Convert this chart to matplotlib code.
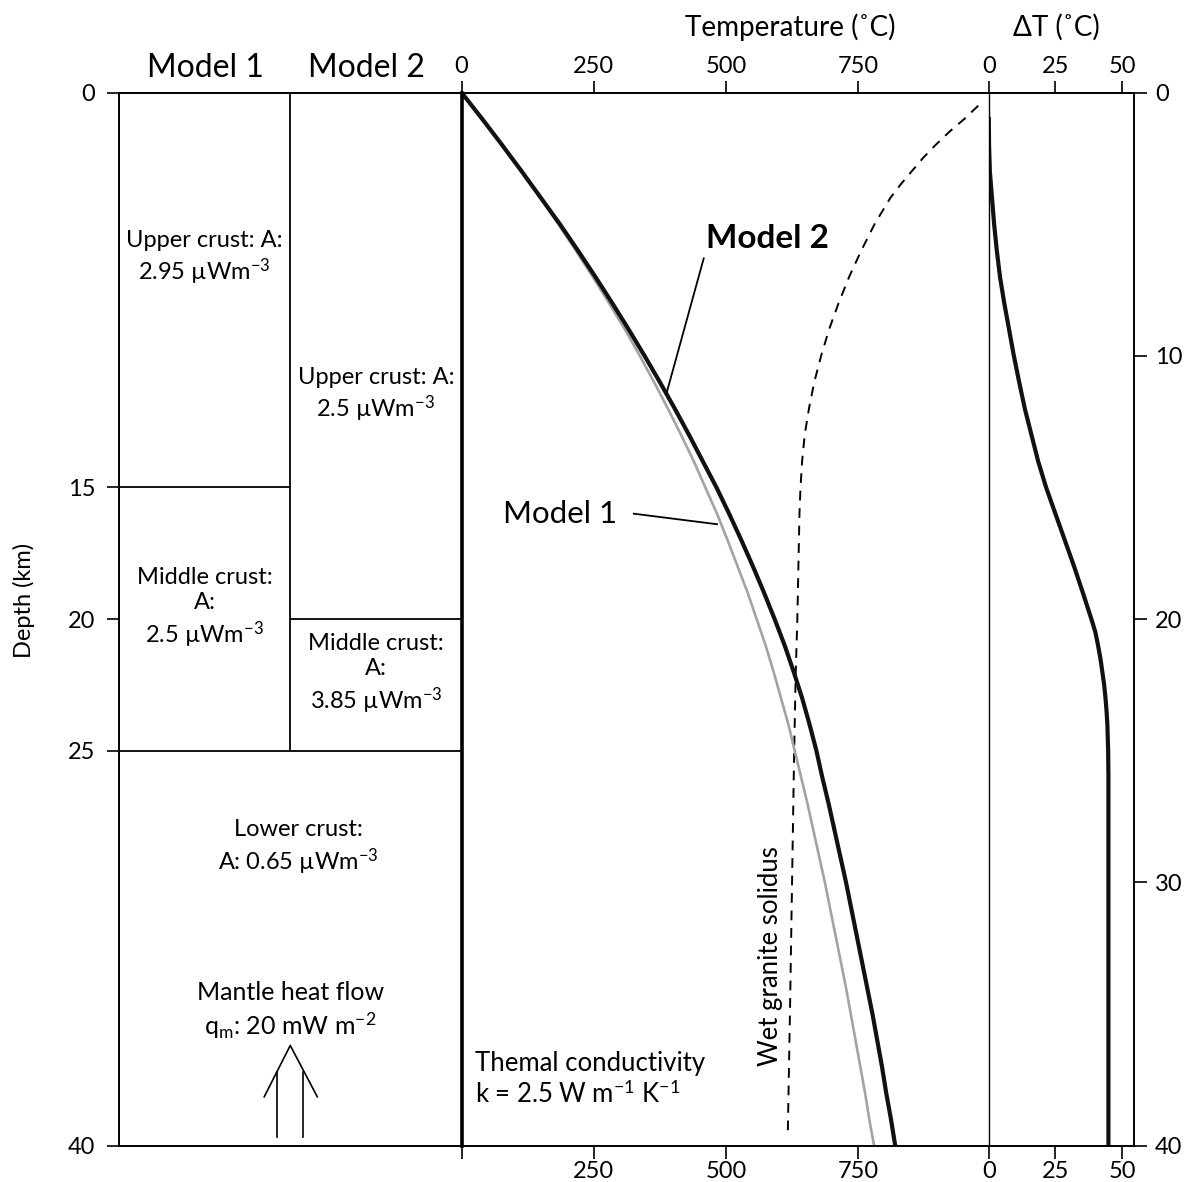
import matplotlib
matplotlib.use('Agg')
import matplotlib.pyplot as plt

plt.rcParams['font.family'] = ['Lato', 'DejaVu Sans']
plt.rcParams['mathtext.fontset'] = 'custom'
plt.rcParams['mathtext.rm'] = 'Lato'
plt.rcParams['mathtext.it'] = 'Lato:italic'
plt.rcParams['mathtext.bf'] = 'Lato:bold'

W, H = 1191, 1182

# geotherms: depth (km) vs temperature (deg C)
depth = [0, 1, 2, 3, 4, 5, 6, 7, 8, 9, 10, 11, 12, 13, 14, 15, 16, 17, 18, 19, 20,
         21, 22, 23, 24, 25, 26, 27, 28, 29, 30, 31, 32, 33, 34, 35, 36, 37, 38, 39, 40]
temp_model1 = [0, 39, 77, 113, 149, 183, 216, 248, 279, 309, 337, 364, 390, 415, 439, 461, 483, 503, 522, 541, 558,
               575, 590, 604, 618, 630, 642, 654, 665, 676, 687, 697, 707, 717, 727, 736, 745, 754, 763, 771, 780]
temp_model2 = [0, 39, 77, 114, 150, 186, 220, 253, 285, 316, 346, 375, 403, 430, 456, 482, 506, 529, 551, 572, 592,
               611, 628, 644, 658, 671, 682, 694, 705, 716, 727, 737, 747, 757, 767, 777, 786, 795, 803, 812, 820]

# temperature difference model 2 - model 1
depth_dT = [1, 2, 3, 4, 5, 6, 7, 8, 9, 10, 11, 12, 13, 14, 15, 16, 17, 18, 19, 20, 20.5,
            21, 21.5, 22, 22.5, 23, 23.5, 24, 25, 26, 40]
dT = [0, 0.1, 0.4, 1.2, 2.0, 3.0, 4.2, 5.8, 7.6, 9.4, 11.4, 13.5, 16, 18.5, 21.5, 25, 28.5, 32, 35.3, 38.5, 40,
      41, 41.9, 42.6, 43.3, 43.8, 44.2, 44.5, 44.8, 44.9, 44.9]

# wet granite solidus
depth_solidus = [0.5, 1, 1.5, 2, 2.5, 3, 3.5, 4, 5, 6, 7, 8, 9, 10, 11, 12, 13, 14, 15, 16, 18, 20, 22, 25, 30, 35, 39.5]
temp_solidus = [977, 951, 922, 896, 872, 851, 830, 811, 781, 756, 733, 713, 695, 680, 667, 657, 649, 644, 641, 639,
                637, 635, 632, 629, 625, 621, 617]

# layer boundaries (km)
bounds_model1 = [15, 25]
bounds_model2 = [20, 25]

depth_ticks_left = [0, 15, 20, 25, 40]
depth_ticks_right = [0, 10, 20, 30, 40]
temp_ticks = [0, 250, 500, 750]
dT_ticks = [0, 25, 50]

fig = plt.figure(figsize=(W / 100, H / 100), dpi=100)

Y0, Y1 = 92.5, 1145.5


def px_axes(x0, x1):
    return fig.add_axes([x0 / W, 1 - Y1 / H, (x1 - x0) / W, (Y1 - Y0) / H])


tick_kw = dict(direction='out', length=9, width=1.2, labelsize=17, colors='black')

# ---- layer columns
ax_l = px_axes(119, 461.5)
ax_l.set_xlim(0, 2)
ax_l.set_ylim(40, 0)
ax_l.spines['right'].set_visible(False)
for s in ['left', 'top', 'bottom']:
    ax_l.spines[s].set_linewidth(1.4)
ax_l.set_xticks([])
ax_l.set_yticks(depth_ticks_left)
ax_l.tick_params(axis='y', pad=8, **tick_kw)
ax_l.vlines(1, 0, 25, color='black', lw=1.3)
ax_l.hlines(bounds_model1, 0, 1, color='black', lw=1.3)
ax_l.hlines(bounds_model2, 1, 2, color='black', lw=1.3)

txt = dict(ha='center', va='center', fontsize=17, linespacing=1.25)
ax_l.text(0.5, 6.3, 'Upper crust: A:\n2.95 µWm$^{-3}$', **txt)
ax_l.text(1.5, 11.5, 'Upper crust: A:\n2.5 µWm$^{-3}$', **txt)
ax_l.text(0.5, 19.6, 'Middle crust:\nA:\n2.5 µWm$^{-3}$', **txt)
ax_l.text(1.5, 22.1, 'Middle crust:\nA:\n3.85 µWm$^{-3}$', **txt)
ax_l.text(1.047, 28.7, 'Lower crust:\nA: 0.65 µWm$^{-3}$', **txt)
ax_l.text(1.0, 34.9, 'Mantle heat flow\nq$_\\mathrm{m}$: 20 mW m$^{-2}$', ha='center', va='center',
          fontsize=18, linespacing=1.25)

# mantle heat flow arrow
ax_l.plot([0.924, 0.924], [39.67, 37.2], color='black', lw=1.2)
ax_l.plot([1.076, 1.076], [39.67, 37.2], color='black', lw=1.2)
ax_l.plot([0.848, 1.0, 1.158], [38.15, 36.2, 38.15], color='black', lw=1.2)

fig.text(205 / W, 1 - 68 / H, 'Model 1', ha='center', va='center', fontsize=23)
fig.text(366 / W, 1 - 68 / H, 'Model 2', ha='center', va='center', fontsize=23)
fig.text(24 / W, 1 - 600 / H, 'Depth (km)', ha='center', va='center', rotation=90, fontsize=17)

# ---- temperature panel
ax_T = px_axes(461.5, 988.8)
ax_T.set_xlim(0, 997)
ax_T.set_ylim(40, 0)
ax_T.spines['right'].set_visible(False)
ax_T.spines['left'].set_linewidth(2.6)
ax_T.spines['top'].set_linewidth(1.4)
ax_T.spines['bottom'].set_linewidth(1.4)
ax_T.set_yticks([])
ax_T.set_xticks(temp_ticks)
ax_T.tick_params(axis='x', top=True, labeltop=True, bottom=True, labelbottom=True, pad=2, **tick_kw)
ax_T.tick_params(axis='x', which='major', labeltop=True)
ax_T.xaxis.get_major_ticks()[0].label1.set_visible(False)

ax_T.plot(temp_solidus, depth_solidus, color='black', lw=1.4, ls=(0, (5, 4)))
ax_T.plot(temp_model1, depth, color='#a3a3a3', lw=1.9)
ax_T.plot(temp_model2, depth, color='#111111', lw=3.0)

ax_T.text(462, 5.55, 'Model 2', ha='left', va='center', fontsize=24, fontweight='bold')
ax_T.plot([458, 388], [6.3, 11.4], color='black', lw=1.3)
ax_T.text(79, 16.0, 'Model 1', ha='left', va='center', fontsize=22.5)
ax_T.plot([326, 483], [16.0, 16.4], color='black', lw=1.3)
ax_T.text(585, 32.8, 'Wet granite solidus', ha='center', va='center', rotation=90, fontsize=18.5)
ax_T.text(26, 37.5, 'Themal conductivity\nk = 2.5 W m$^{-1}$ K$^{-1}$', ha='left', va='center',
          fontsize=18.5, linespacing=1.2)

fig.text(790 / W, 1 - 27 / H, 'Temperature (˚C)', ha='center', va='center', fontsize=20)

# ---- delta T panel
ax_d = px_axes(988.8, 1134)
ax_d.set_xlim(0, 54.5)
ax_d.set_ylim(40, 0)
ax_d.spines['left'].set_linewidth(1.0)
for s in ['right', 'top', 'bottom']:
    ax_d.spines[s].set_linewidth(1.4)
ax_d.set_xticks(dT_ticks)
ax_d.tick_params(axis='x', top=True, labeltop=True, bottom=True, labelbottom=True, pad=2, **tick_kw)
ax_d.yaxis.tick_right()
ax_d.set_yticks(depth_ticks_right)
ax_d.tick_params(axis='y', left=False, right=True, labelright=True, pad=6, **tick_kw)
ax_d.plot(dT, depth_dT, color='#111111', lw=3.0)

fig.text(1056 / W, 1 - 27 / H, 'ΔT (˚C)', ha='center', va='center', fontsize=20)

fig.savefig('out.png', dpi=100)
